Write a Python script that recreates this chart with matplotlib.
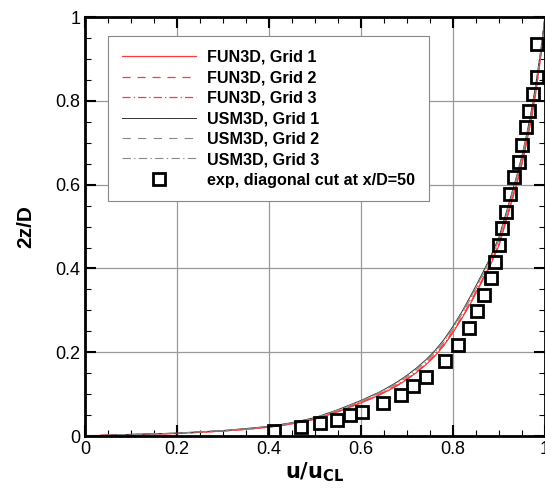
import matplotlib
matplotlib.use("Agg")
import matplotlib.pyplot as plt
from matplotlib.ticker import MultipleLocator

plt.rcParams['font.family'] = ['Liberation Sans', 'DejaVu Sans']

# CFD profiles, u/u_CL vs 2z/D
x_cfd = [0, 0.05, 0.1, 0.15, 0.2, 0.25, 0.3, 0.35, 0.4, 0.45, 0.5, 0.55, 0.6,
         0.62, 0.64, 0.66, 0.68, 0.7, 0.72, 0.74, 0.76, 0.78, 0.8, 0.82, 0.84,
         0.86, 0.88, 0.9, 0.92, 0.94, 0.95, 0.96, 0.97, 0.98, 0.99, 1.0]
fun3d_g1 = [0, 0.002, 0.003, 0.005, 0.006, 0.009, 0.012, 0.016, 0.021, 0.029, 0.040, 0.058, 0.079,
            0.088, 0.098, 0.109, 0.121, 0.135, 0.151, 0.169, 0.190, 0.216, 0.247, 0.282, 0.320,
            0.362, 0.405, 0.455, 0.530, 0.607, 0.650, 0.700, 0.755, 0.820, 0.900, 1.0]
fun3d_g2 = [0, 0.002, 0.003, 0.005, 0.006, 0.009, 0.012, 0.016, 0.021, 0.029, 0.041, 0.058, 0.080,
            0.089, 0.099, 0.110, 0.122, 0.136, 0.152, 0.170, 0.191, 0.217, 0.248, 0.283, 0.322,
            0.364, 0.407, 0.457, 0.532, 0.609, 0.652, 0.702, 0.757, 0.822, 0.902, 1.0]
fun3d_g3 = [0, 0.002, 0.003, 0.005, 0.006, 0.009, 0.012, 0.016, 0.022, 0.030, 0.041, 0.059, 0.081,
            0.090, 0.100, 0.111, 0.123, 0.137, 0.153, 0.171, 0.193, 0.219, 0.250, 0.285, 0.324,
            0.366, 0.409, 0.459, 0.534, 0.611, 0.654, 0.704, 0.759, 0.824, 0.904, 1.0]
usm3d_g1 = [0, 0.002, 0.004, 0.005, 0.007, 0.010, 0.013, 0.018, 0.023, 0.032, 0.044, 0.063, 0.085,
            0.095, 0.105, 0.117, 0.130, 0.145, 0.162, 0.181, 0.203, 0.230, 0.262, 0.298, 0.338,
            0.380, 0.424, 0.475, 0.550, 0.627, 0.670, 0.720, 0.775, 0.840, 0.915, 1.0]
usm3d_g2 = [0, 0.002, 0.004, 0.005, 0.007, 0.010, 0.013, 0.017, 0.023, 0.031, 0.043, 0.062, 0.084,
            0.093, 0.104, 0.115, 0.128, 0.143, 0.160, 0.178, 0.200, 0.227, 0.259, 0.295, 0.334,
            0.376, 0.420, 0.471, 0.546, 0.623, 0.666, 0.716, 0.771, 0.836, 0.912, 1.0]
usm3d_g3 = [0, 0.002, 0.003, 0.005, 0.007, 0.010, 0.013, 0.017, 0.022, 0.031, 0.043, 0.061, 0.083,
            0.092, 0.103, 0.114, 0.127, 0.141, 0.158, 0.176, 0.198, 0.224, 0.256, 0.292, 0.331,
            0.373, 0.417, 0.468, 0.543, 0.620, 0.663, 0.713, 0.768, 0.833, 0.910, 1.0]

# experiment, diagonal cut at x/D=50
exp_u = [0.411, 0.469, 0.511, 0.547, 0.575, 0.602, 0.647, 0.686, 0.714, 0.741,
         0.783, 0.810, 0.835, 0.852, 0.867, 0.882, 0.891, 0.899, 0.906, 0.916,
         0.924, 0.933, 0.943, 0.949, 0.959, 0.966, 0.973, 0.983, 0.983]
exp_z = [0.013, 0.021, 0.030, 0.038, 0.049, 0.057, 0.079, 0.099, 0.119, 0.140,
         0.178, 0.217, 0.258, 0.298, 0.337, 0.378, 0.416, 0.457, 0.496, 0.535,
         0.577, 0.619, 0.655, 0.695, 0.737, 0.776, 0.816, 0.856, 0.936]

red = '#ff3a3a'

fig = plt.figure(figsize=(5.45, 4.91), dpi=100)
ax = fig.add_axes([0.156, 0.112, 0.844, 0.853])

ax.plot(x_cfd, fun3d_g1, color=red, lw=0.9, label='FUN3D, Grid 1')
ax.plot(x_cfd, fun3d_g2, color=red, lw=0.9, ls=(0, (6.5, 5.5)), label='FUN3D, Grid 2')
ax.plot(x_cfd, fun3d_g3, color=red, lw=0.9, ls=(0, (6.5, 2.5, 1, 2.5)), label='FUN3D, Grid 3')
ax.plot(x_cfd, usm3d_g1, color='#333333', lw=0.7, label='USM3D, Grid 1')
ax.plot(x_cfd, usm3d_g2, color='#888888', lw=0.8, ls=(0, (7.5, 6.5)), label='USM3D, Grid 2')
ax.plot(x_cfd, usm3d_g3, color='#888888', lw=0.8, ls=(0, (7.5, 3, 1.2, 3)), label='USM3D, Grid 3')
ax.plot(exp_u, exp_z, ls='none', marker='s', ms=8, mfc='none', mec='black', mew=2,
        label='exp, diagonal cut at x/D=50')

ax.set_xlim(0, 1)
ax.set_ylim(0, 1)
ax.xaxis.set_major_locator(MultipleLocator(0.2))
ax.yaxis.set_major_locator(MultipleLocator(0.2))
ax.xaxis.set_minor_locator(MultipleLocator(0.05))
ax.yaxis.set_minor_locator(MultipleLocator(0.05))
ax.xaxis.set_major_formatter(plt.FuncFormatter(lambda v, p: f'{v:g}'))
ax.yaxis.set_major_formatter(plt.FuncFormatter(lambda v, p: f'{v:g}'))
ax.tick_params(which='major', direction='in', length=8, width=1.5, labelsize=13,
               top=True, right=True)
ax.tick_params(which='minor', direction='in', length=4, width=0.8, top=True, right=True)
ax.grid(True, which='major', color='#999999', lw=0.9)
for s in ax.spines.values():
    s.set_linewidth(2)

ax.set_xlabel(r'$\mathbf{u/u_{CL}}$', fontsize=15, labelpad=2)
ax.set_ylabel('2z/D', fontsize=15, fontweight='bold', labelpad=14)

leg = ax.legend(loc='upper left', bbox_to_anchor=(0.05, 0.955), borderaxespad=0,
                handlelength=4.6, handletextpad=0.7, borderpad=0.85, labelspacing=0.34,
                fancybox=False, framealpha=1, edgecolor='#888888',
                prop={'weight': 'bold', 'size': 11.6})
leg.get_frame().set_linewidth(0.8)

fig.savefig('out.png', dpi=100)
